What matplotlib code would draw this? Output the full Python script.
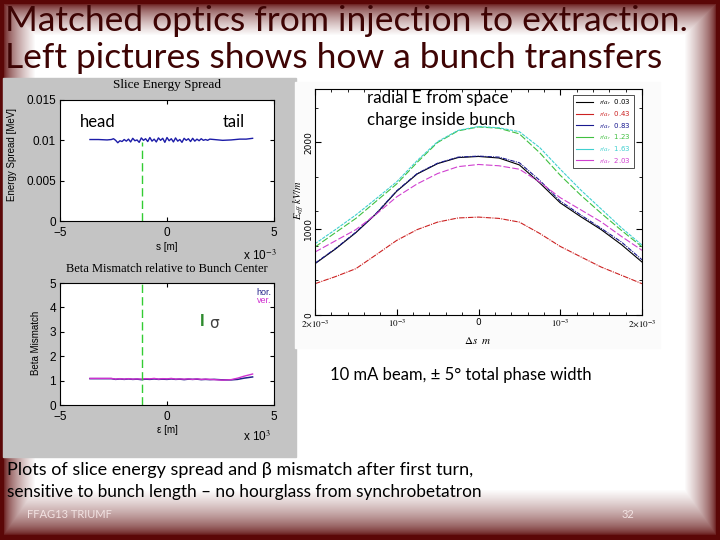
import numpy as np
import matplotlib
matplotlib.use("Agg")
import matplotlib.pyplot as plt
from matplotlib.patches import Rectangle
from matplotlib.ticker import MultipleLocator

plt.rcParams['mathtext.fontset'] = 'stix'

# slice energy spread, s in units of 1e-3 m, spread in MeV
es_s = [-3.6, -3.2, -2.8, -2.6, -2.5, -2.4, -2.3, -2.2, -2.1, -2.0,
        -1.9, -1.8, -1.7, -1.6, -1.5, -1.4, -1.3, -1.2, -1.1, -1.0,
        -0.9, -0.8, -0.7, -0.6, -0.5, -0.4, -0.3, -0.2, -0.1, 0.0,
        0.1, 0.2, 0.3, 0.4, 0.5, 0.6, 0.7, 0.8, 0.9, 1.0,
        1.1, 1.2, 1.3, 1.4, 1.5, 1.6, 1.7, 1.8, 1.9, 2.0,
        2.2, 2.6, 3.0, 3.4, 3.7, 4.0]
es_val = [0.01010, 0.01010, 0.01005, 0.01010, 0.01020, 0.01000, 0.00970, 0.00995, 0.00985, 0.01010,
          0.00990, 0.01015, 0.00980, 0.01025, 0.00995, 0.01005, 0.00975, 0.01030, 0.01000, 0.01020,
          0.00985, 0.01035, 0.00990, 0.01015, 0.00980, 0.01030, 0.01000, 0.01025, 0.00975, 0.01035,
          0.00995, 0.01020, 0.00980, 0.01030, 0.00990, 0.01010, 0.00975, 0.01025, 0.01000, 0.01020,
          0.00985, 0.01025, 0.00990, 0.01015, 0.00995, 0.01020, 0.01000, 0.01010, 0.01000, 0.01015,
          0.01010, 0.01000, 0.01005, 0.01015, 0.01015, 0.01025]
center_s = -1.15
center_top_es = 0.0098

# beta mismatch relative to bunch center
beta_s = [-3.6, -2.6, -2.4, -2.2, -2.0, -1.8, -1.6, -1.4, -1.2, -1.0,
          -0.8, -0.6, -0.4, -0.2, 0.0, 0.2, 0.4, 0.6, 0.8, 1.0,
          1.2, 1.4, 1.6, 1.8, 2.0, 2.2, 2.6, 3.0, 3.3, 3.6, 4.0]
beta_hor = [1.08, 1.08, 1.05, 1.07, 1.05, 1.07, 1.05, 1.06, 1.04, 1.06,
            1.05, 1.07, 1.05, 1.06, 1.05, 1.07, 1.05, 1.06, 1.04, 1.06,
            1.05, 1.06, 1.04, 1.05, 1.04, 1.05, 1.03, 1.03, 1.05, 1.10, 1.15]
beta_ver = [1.09, 1.09, 1.06, 1.08, 1.06, 1.08, 1.06, 1.07, 1.06, 1.08,
            1.07, 1.09, 1.06, 1.08, 1.07, 1.09, 1.06, 1.07, 1.06, 1.07,
            1.05, 1.07, 1.05, 1.06, 1.05, 1.04, 1.02, 1.04, 1.10, 1.18, 1.27]

# effective radial field, ds in units of 1e-3 m, E in kV/m
ds = [-2.0, -1.75, -1.5, -1.25, -1.0, -0.75, -0.5, -0.25, 0.0,
      0.25, 0.5, 0.75, 1.0, 1.25, 1.5, 1.75, 2.0]
e_ratios = ["0.03", "0.43", "0.83", "1.23", "1.63", "2.03"]
e_black = [595, 765, 955, 1175, 1435, 1635, 1755, 1825, 1838, 1820, 1740, 1530, 1300, 1140, 990, 815, 614]
e_red = [363, 445, 537, 700, 865, 990, 1077, 1125, 1135, 1120, 1077, 945, 795, 675, 556, 460, 363]
e_blue = [600, 770, 960, 1180, 1440, 1640, 1760, 1830, 1842, 1830, 1765, 1560, 1320, 1160, 1005, 845, 640]
e_green = [788, 955, 1120, 1320, 1520, 1770, 2000, 2135, 2180, 2165, 2100, 1880, 1620, 1390, 1180, 980, 790]
e_cyan = [826, 990, 1160, 1350, 1545, 1790, 2010, 2140, 2185, 2170, 2125, 1940, 1690, 1450, 1230, 1010, 810]
e_magenta = [730, 860, 990, 1170, 1370, 1520, 1640, 1720, 1745, 1730, 1690, 1540, 1360, 1220, 1080, 910, 750]

W, H = 720, 540


def rect(x0, y0, x1, y1):
    # pixel box (top-left origin) -> figure fraction
    return [x0 / W, 1 - y1 / H, (x1 - x0) / W, (y1 - y0) / H]


fig = plt.figure(figsize=(7.2, 5.4), dpi=100)

# slide background: maroon bevel fading into white (wider band at the bottom)
yy, xx = np.mgrid[0:H, 0:W]
d = np.minimum(np.minimum(xx, W - 1 - xx), np.minimum(yy, (H - 1 - yy) * 0.7))
t = np.clip((d - 3) / 32.0, 0, 1) ** 0.6
maroon = np.array([0.36, 0.03, 0.03])
img = maroon[None, None, :] + (1 - maroon[None, None, :]) * t[:, :, None]
ax_bg = fig.add_axes([0, 0, 1, 1], zorder=-10)
ax_bg.imshow(img, aspect='auto', interpolation='bilinear')
ax_bg.axis('off')

# gray panel behind the left plots, white behind the right one
fig.add_artist(Rectangle((3 / W, 1 - 457 / H), 293 / W, 379 / H,
                         transform=fig.transFigure, color='#c4c4c4', zorder=0))
fig.add_artist(Rectangle((295 / W, 1 - 348 / H), 365 / W, 266 / H,
                         transform=fig.transFigure, color='#fbfbfb', zorder=0))

sans = 'Liberation Sans'
serif = 'Liberation Serif'
slide = ['Lato', 'DejaVu Sans']


def matlab_style(ax):
    ax.tick_params(direction='in', top=True, right=True, length=3, labelsize=8.5, pad=3)
    ax.tick_params(axis='x', pad=4)
    for lab in ax.get_xticklabels() + ax.get_yticklabels():
        lab.set_family(sans)
    for sp in ax.spines.values():
        sp.set_linewidth(0.8)


# --- slice energy spread ---
ax1 = fig.add_axes(rect(60, 100, 274, 221), zorder=1)
ax1.plot(es_s, es_val, color='#1c1ca8', lw=1.0)
ax1.vlines(center_s, 0, center_top_es, color='#33cc33', lw=1.0, linestyles=(0, (6, 3)))
ax1.set_xlim(-5, 5)
ax1.set_ylim(0, 0.015)
ax1.set_xticks([-5, 0, 5])
ax1.set_yticks([0, 0.005, 0.01, 0.015])
ax1.set_yticklabels(['0', '0.005', '0.01', '0.015'])
matlab_style(ax1)
fig.text(167 / W, 1 - 85 / H, 'Slice Energy Spread', family=serif, fontsize=9.5, ha='center', va='center')
fig.text(12 / W, 1 - 155 / H, 'Energy Spread [MeV]', family=sans, fontsize=7, rotation=90, ha='center', va='center')
fig.text(167 / W, 1 - 247 / H, 's [m]', family=sans, fontsize=7, ha='center', va='center')
fig.text(243 / W, 1 - 256 / H, r'x 10$^{-3}$', family=sans, fontsize=8.5, ha='left', va='center')
fig.text(80 / W, 1 - 122 / H, 'head', family=slide, fontsize=12, ha='left', va='center')
fig.text(223 / W, 1 - 122 / H, 'tail', family=slide, fontsize=12, ha='left', va='center')

# --- beta mismatch ---
ax2 = fig.add_axes(rect(60, 283, 274, 405), zorder=1)
ax2.plot(beta_s, beta_hor, color='#202088', lw=1.1)
ax2.plot(beta_s, beta_ver, color='#d030d0', lw=1.0)
ax2.vlines(center_s, 0, 5, color='#33cc33', lw=1.0, linestyles=(0, (6, 3)))
ax2.set_xlim(-5, 5)
ax2.set_ylim(0, 5)
ax2.set_xticks([-5, 0, 5])
ax2.set_yticks([0, 1, 2, 3, 4, 5])
matlab_style(ax2)
ax2.text(0.99, 0.96, 'hor.', transform=ax2.transAxes, color='#202088', family=sans, fontsize=6.5, ha='right', va='top')
ax2.text(0.99, 0.89, 'ver.', transform=ax2.transAxes, color='#d030d0', family=sans, fontsize=6.5, ha='right', va='top')
fig.text(200 / W, 1 - 322 / H, 'I', color='#2e8b2e', family=sans, fontsize=12, fontweight='bold', ha='left', va='center')
fig.text(209 / W, 1 - 323 / H, 'σ', color='#404040', family='DejaVu Sans', fontsize=11, ha='left', va='center')
fig.text(167 / W, 1 - 269 / H, 'Beta Mismatch relative to Bunch Center', family=serif, fontsize=9, ha='center', va='center')
fig.text(36 / W, 1 - 343 / H, 'Beta Mismatch', family=sans, fontsize=7, rotation=90, ha='center', va='center')
fig.text(167 / W, 1 - 430 / H, 'ε [m]', family=sans, fontsize=7, ha='center', va='center')
fig.text(243 / W, 1 - 437 / H, r'x 10$^{3}$', family=sans, fontsize=8.5, ha='left', va='center')

# --- radial field inside bunch ---
ax3 = fig.add_axes(rect(315, 89, 642, 315), zorder=1)
styles = [('k', '-'), ('#cc2222', (0, (5, 1, 1, 1))), ('#1a1a90', (0, (4, 1, 1, 1))),
          ('#40c040', (0, (6, 2))), ('#40d0d0', (0, (3, 1))), ('#d040d0', (0, (6, 2)))]
curves = [e_black, e_red, e_blue, e_green, e_cyan, e_magenta]
for (c, ls), vals, r in zip(styles, curves, e_ratios):
    ax3.plot(ds, vals, color=c, ls=ls, lw=0.8, label=r'$r/a_r$  ' + r)
ax3.set_xlim(-2, 2)
ax3.set_ylim(0, 2620)
ax3.set_xticks([-2, -1, 0, 1, 2])
ax3.set_xticklabels([r'$2{\times}10^{-3}$', r'$10^{-3}$', '0', r'$10^{-3}$', r'$2{\times}10^{-3}$'])
ax3.xaxis.set_minor_locator(MultipleLocator(0.2))
ax3.set_yticks([0, 1000, 2000])
ax3.set_yticklabels(['0', '1000', '2000'], rotation=90, va='center')
ax3.yaxis.set_minor_locator(MultipleLocator(400))
ax3.tick_params(which='both', direction='in', top=True, right=True, labelsize=6.5, pad=2)
ax3.tick_params(axis='y', pad=1.5)
ax3.tick_params(which='major', length=4)
ax3.tick_params(which='minor', length=2.5)
for sp in ax3.spines.values():
    sp.set_linewidth(0.8)
leg = ax3.legend(loc='upper right', fontsize=5, frameon=True, fancybox=False,
                 edgecolor='k', labelcolor='linecolor', handlelength=2.5,
                 labelspacing=0.25, borderpad=0.4, bbox_to_anchor=(0.985, 0.99))
leg.get_frame().set_linewidth(0.6)
for h in leg.get_lines():
    h.set_linestyle('-')
fig.text(299 / W, 1 - 200 / H, r'$E_{eff}\ kV/m$', fontsize=7.5, rotation=90, ha='center', va='center')
fig.text(478 / W, 1 - 340 / H, r'$\Delta s\ \ m$', fontsize=8, ha='center', va='center')
fig.text(367 / W, 1 - 98 / H, 'radial E from space', family=slide, fontsize=12.2, ha='left', va='center')
fig.text(367 / W, 1 - 120 / H, 'charge inside bunch', family=slide, fontsize=12.2, ha='left', va='center')

# --- slide text ---
title_col = '#3e0404'
fig.text(5 / W, 1 - 31 / H, 'Matched optics from injection to extraction.', family=slide,
         fontsize=25.5, color=title_col, ha='left', va='baseline')
fig.text(5 / W, 1 - 68 / H, 'Left pictures shows how a bunch transfers', family=slide,
         fontsize=25.5, color=title_col, ha='left', va='baseline')
fig.text(330 / W, 1 - 375 / H, '10 mA beam, ± 5° total phase width', family=slide, fontsize=12,
         ha='left', va='center')
fig.text(7 / W, 1 - 470 / H, 'Plots of slice energy spread and β mismatch after first turn,', family=slide,
         fontsize=13, ha='left', va='center')
fig.text(7 / W, 1 - 492 / H, 'sensitive to bunch length – no hourglass from synchrobetatron', family=slide,
         fontsize=12.4, ha='left', va='center')
fig.text(27 / W, 1 - 514 / H, 'FFAG13 TRIUMF', family=slide, fontsize=8, color='#f2e2e2', ha='left', va='center')
fig.text(622 / W, 1 - 514 / H, '32', family=slide, fontsize=8, color='#f2e2e2', ha='left', va='center')

fig.savefig('out.png', dpi=100)
